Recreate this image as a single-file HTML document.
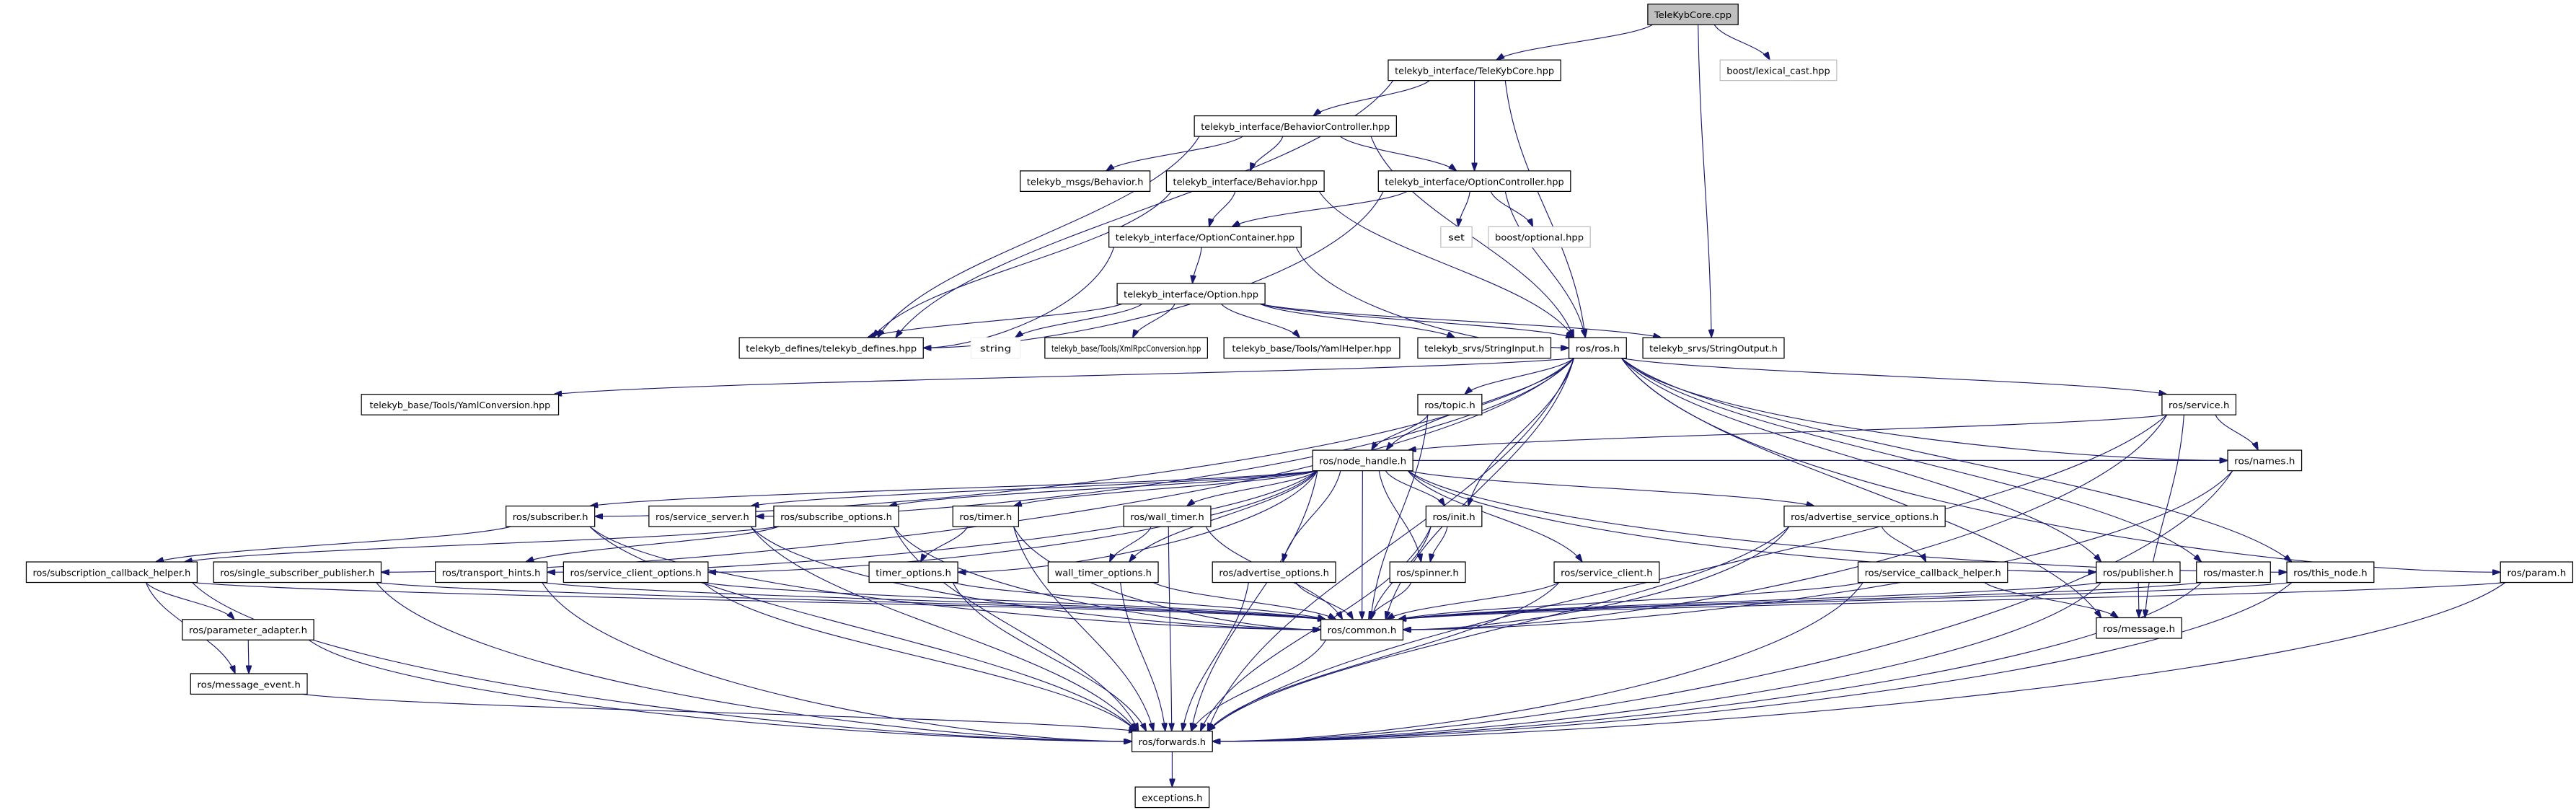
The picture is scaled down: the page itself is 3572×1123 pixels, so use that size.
<!DOCTYPE html>
<html><head><meta charset="utf-8">
<style>
html,body{margin:0;padding:0;background:#fff;width:3572px;height:1123px;overflow:hidden}
svg{display:block}
text{font-family:"DejaVu Sans","Liberation Sans",sans-serif;font-size:5.4px;fill:#000;text-anchor:middle}
rect{fill:#fff;stroke:#000;stroke-width:0.55}
rect.g{stroke:#bfbfbf}
rect.f{fill:#bfbfbf}
path.e{fill:none;stroke:#191970;stroke-width:0.5}
</style></head><body>
<svg id="s" width="3572" height="1123" viewBox="0 0 1568 493" preserveAspectRatio="none" xmlns="http://www.w3.org/2000/svg">
<defs><marker id="a" viewBox="0 0 10 7" refX="10" refY="3.5" markerWidth="5" markerHeight="3.5" markerUnits="userSpaceOnUse" orient="auto"><path d="M0,0 L10,3.5 L0,7 z" fill="#191970" stroke="#191970"/></marker></defs>
<g id="E"></g>
<g id="N">
<rect id="n0" class="f" x="1003" y="2.5" width="55" height="12.5"/><text x="1030.5" y="11" textLength="47" lengthAdjust="spacingAndGlyphs">TeleKybCore.cpp</text>
<rect id="n1" x="845" y="36.5" width="105" height="12.5"/><text x="897.5" y="45" textLength="97" lengthAdjust="spacingAndGlyphs">telekyb_interface/TeleKybCore.hpp</text>
<rect id="lex" class="g" x="1047" y="36.5" width="71" height="12.5"/><text x="1082.5" y="45" textLength="63" lengthAdjust="spacingAndGlyphs">boost/lexical_cast.hpp</text>
<rect id="bc" x="727" y="70.5" width="123" height="12.5"/><text x="788.5" y="79" textLength="115" lengthAdjust="spacingAndGlyphs">telekyb_interface/BehaviorController.hpp</text>
<rect id="mb" x="621" y="104" width="79" height="12.5"/><text x="660.5" y="112.5" textLength="71" lengthAdjust="spacingAndGlyphs">telekyb_msgs/Behavior.h</text>
<rect id="bh" x="710" y="104" width="96" height="12.5"/><text x="758" y="112.5" textLength="88" lengthAdjust="spacingAndGlyphs">telekyb_interface/Behavior.hpp</text>
<rect id="oc" x="839" y="104" width="117" height="12.5"/><text x="897.5" y="112.5" textLength="109" lengthAdjust="spacingAndGlyphs">telekyb_interface/OptionController.hpp</text>
<rect id="set" class="g" x="877" y="138" width="19" height="12.5"/><text x="886.5" y="146.5" textLength="10" lengthAdjust="spacingAndGlyphs">set</text>
<rect id="opt" class="g" x="906" y="138" width="62" height="12.5"/><text x="937" y="146.5" textLength="54" lengthAdjust="spacingAndGlyphs">boost/optional.hpp</text>
<rect id="ocn" x="675" y="138" width="117" height="12.5"/><text x="733.5" y="146.5" textLength="109" lengthAdjust="spacingAndGlyphs">telekyb_interface/OptionContainer.hpp</text>
<rect id="op" x="680" y="172.5" width="90" height="12.5"/><text x="725" y="181" textLength="82" lengthAdjust="spacingAndGlyphs">telekyb_interface/Option.hpp</text>
<rect id="def" x="450" y="205.5" width="112" height="12.5"/><text x="506" y="214" textLength="104" lengthAdjust="spacingAndGlyphs">telekyb_defines/telekyb_defines.hpp</text>
<rect id="str" class="g" x="591" y="205.5" width="30" height="12.5" style="stroke:#f0f0f0"/><text x="606" y="214" textLength="19" lengthAdjust="spacingAndGlyphs">string</text>
<rect id="xml" x="636" y="205.5" width="99" height="12.5"/><text x="685.5" y="214" textLength="91" lengthAdjust="spacingAndGlyphs">telekyb_base/Tools/XmlRpcConversion.hpp</text>
<rect id="yh" x="745" y="205.5" width="107" height="12.5"/><text x="798.5" y="214" textLength="97" lengthAdjust="spacingAndGlyphs">telekyb_base/Tools/YamlHelper.hpp</text>
<rect id="si" x="863" y="205.5" width="81" height="12.5"/><text x="903.5" y="214" textLength="73" lengthAdjust="spacingAndGlyphs">telekyb_srvs/StringInput.h</text>
<rect id="ros" x="955" y="205.5" width="35" height="12.5"/><text x="972.5" y="214" textLength="27" lengthAdjust="spacingAndGlyphs">ros/ros.h</text>
<rect id="so" x="1000" y="205.5" width="86" height="12.5"/><text x="1043" y="214" textLength="78" lengthAdjust="spacingAndGlyphs">telekyb_srvs/StringOutput.h</text>
<rect id="yc" x="220" y="240" width="120" height="12.5"/><text x="280" y="248.5" textLength="110" lengthAdjust="spacingAndGlyphs">telekyb_base/Tools/YamlConversion.hpp</text>
<rect id="topic" x="863" y="240" width="39" height="12.5"/><text x="882.5" y="248.5" textLength="31" lengthAdjust="spacingAndGlyphs">ros/topic.h</text>
<rect id="svc" x="1316" y="240" width="45" height="12.5"/><text x="1338.5" y="248.5" textLength="37" lengthAdjust="spacingAndGlyphs">ros/service.h</text>
<rect id="names" x="1356" y="274" width="45" height="12.5"/><text x="1378.5" y="282.5" textLength="37" lengthAdjust="spacingAndGlyphs">ros/names.h</text>
<rect id="nh" x="799" y="274" width="61" height="12.5"/><text x="829.5" y="282.5" textLength="53" lengthAdjust="spacingAndGlyphs">ros/node_handle.h</text>
<rect id="sub" x="308" y="308" width="54" height="12.5"/><text x="335" y="316.5" textLength="46" lengthAdjust="spacingAndGlyphs">ros/subscriber.h</text>
<rect id="ss" x="395" y="308" width="65" height="12.5"/><text x="427.5" y="316.5" textLength="57" lengthAdjust="spacingAndGlyphs">ros/service_server.h</text>
<rect id="sop" x="471" y="308" width="76" height="12.5"/><text x="509" y="316.5" textLength="68" lengthAdjust="spacingAndGlyphs">ros/subscribe_options.h</text>
<rect id="tim" x="580" y="308" width="40" height="12.5"/><text x="600" y="316.5" textLength="32" lengthAdjust="spacingAndGlyphs">ros/timer.h</text>
<rect id="wt" x="684" y="308" width="53" height="12.5"/><text x="710.5" y="316.5" textLength="45" lengthAdjust="spacingAndGlyphs">ros/wall_timer.h</text>
<rect id="init" x="868" y="308" width="34" height="12.5"/><text x="885" y="316.5" textLength="26" lengthAdjust="spacingAndGlyphs">ros/init.h</text>
<rect id="aso" x="1086" y="308" width="98" height="12.5"/><text x="1135" y="316.5" textLength="90" lengthAdjust="spacingAndGlyphs">ros/advertise_service_options.h</text>
<rect id="sch" x="16" y="342" width="104" height="12.5"/><text x="68" y="350.5" textLength="96" lengthAdjust="spacingAndGlyphs">ros/subscription_callback_helper.h</text>
<rect id="ssp" x="130" y="342" width="102" height="12.5"/><text x="181" y="350.5" textLength="94" lengthAdjust="spacingAndGlyphs">ros/single_subscriber_publisher.h</text>
<rect id="th" x="265" y="342" width="68" height="12.5"/><text x="299" y="350.5" textLength="60" lengthAdjust="spacingAndGlyphs">ros/transport_hints.h</text>
<rect id="sco" x="343" y="342" width="88" height="12.5"/><text x="387" y="350.5" textLength="80" lengthAdjust="spacingAndGlyphs">ros/service_client_options.h</text>
<rect id="to" x="529" y="342" width="54" height="12.5"/><text x="556" y="350.5" textLength="46" lengthAdjust="spacingAndGlyphs">timer_options.h</text>
<rect id="wto" x="638" y="342" width="67" height="12.5"/><text x="671.5" y="350.5" textLength="59" lengthAdjust="spacingAndGlyphs">wall_timer_options.h</text>
<rect id="ao" x="738" y="342" width="75" height="12.5"/><text x="775.5" y="350.5" textLength="67" lengthAdjust="spacingAndGlyphs">ros/advertise_options.h</text>
<rect id="sp" x="846" y="342" width="46" height="12.5"/><text x="869" y="350.5" textLength="38" lengthAdjust="spacingAndGlyphs">ros/spinner.h</text>
<rect id="sc" x="946" y="342" width="64" height="12.5"/><text x="978" y="350.5" textLength="56" lengthAdjust="spacingAndGlyphs">ros/service_client.h</text>
<rect id="scb" x="1131" y="342" width="91" height="12.5"/><text x="1176.5" y="350.5" textLength="83" lengthAdjust="spacingAndGlyphs">ros/service_callback_helper.h</text>
<rect id="pub" x="1276" y="342" width="51" height="12.5"/><text x="1301.5" y="350.5" textLength="43" lengthAdjust="spacingAndGlyphs">ros/publisher.h</text>
<rect id="mas" x="1337" y="342" width="45" height="12.5"/><text x="1359.5" y="350.5" textLength="37" lengthAdjust="spacingAndGlyphs">ros/master.h</text>
<rect id="tn" x="1392" y="342" width="53" height="12.5"/><text x="1418.5" y="350.5" textLength="45" lengthAdjust="spacingAndGlyphs">ros/this_node.h</text>
<rect id="param" x="1522" y="342" width="44" height="12.5"/><text x="1544" y="350.5" textLength="36" lengthAdjust="spacingAndGlyphs">ros/param.h</text>
<rect id="com" x="804" y="377" width="50" height="12.5"/><text x="829" y="385.5" textLength="42" lengthAdjust="spacingAndGlyphs">ros/common.h</text>
<rect id="msg" x="1276" y="376" width="52" height="12.5"/><text x="1302" y="384.5" textLength="44" lengthAdjust="spacingAndGlyphs">ros/message.h</text>
<rect id="pa" x="111" y="377" width="80" height="12.5"/><text x="151" y="385.5" textLength="72" lengthAdjust="spacingAndGlyphs">ros/parameter_adapter.h</text>
<rect id="me" x="116" y="410" width="71" height="12.5"/><text x="151.5" y="418.5" textLength="63" lengthAdjust="spacingAndGlyphs">ros/message_event.h</text>
<rect id="fw" x="689" y="445" width="49" height="12.5"/><text x="713.5" y="453.5" textLength="41" lengthAdjust="spacingAndGlyphs">ros/forwards.h</text>
<rect id="exc" x="691" y="479" width="45" height="12.5"/><text x="713.5" y="487.5" textLength="37" lengthAdjust="spacingAndGlyphs">exceptions.h</text>
</g>
</svg>
<script>
(function(){
var E={
n0:"n1 lex so",
n1:"bc oc def ros",
bc:"mb bh oc def ros",
bh:"ocn def ros",
oc:"set opt ocn def ros",
ocn:"op def ros",
op:"def str xml yh si ros so",
ros:"yc nh topic svc names init com fw pub param tn mas sub ss ssp msg",
topic:"nh com",
svc:"nh names com fw msg",
names:"com fw",
nh:"sub ss sop tim wt init aso ao sp sc sco to wto th pub com fw names tn",
sub:"sch com fw",
ss:"com fw",
sop:"sch th com fw",
tim:"to com fw",
wt:"wto com fw",
init:"sp com fw",
aso:"scb com fw",
sch:"pa me com fw",
ssp:"com fw",
th:"com fw",
sco:"com fw",
to:"com fw",
wto:"com fw",
ao:"com fw",
sp:"com",
sc:"com fw",
scb:"com msg fw",
pub:"com msg fw",
mas:"com fw",
tn:"com fw",
param:"com fw",
pa:"me fw",
me:"fw",
com:"fw",
fw:"exc"
};
function B(id){var r=document.getElementById(id);var x=+r.getAttribute("x"),y=+r.getAttribute("y"),w=+r.getAttribute("width"),h=+r.getAttribute("height");return {x:x,y:y,w:w,h:h,cx:x+w/2,cy:y+h/2};}
function cl(v,a,b){return Math.max(a,Math.min(b,v));}
var g=document.getElementById("E"),out="";
for(var s in E){var a=B(s);E[s].split(" ").forEach(function(t){var b=B(t);
 var dx=b.cx-a.cx,dyc=b.cy-a.cy,x1,y1,x2,y2,d;
 var dy=b.y-(a.y+a.h);
 if(dy<6){
   /* same-row: side to side */
   y1=a.cy; x1=dx>0?a.x+a.w:a.x; y2=b.cy; x2=dx>0?b.x:b.x+b.w;
   d="M"+x1+","+y1+" L"+x2+","+y2;
 }else if(Math.abs(dx)>4*dy&&dy>40){
   x1=cl(a.cx+dx*0.3,a.x+3,a.x+a.w-3); y1=a.y+a.h;
   y2=b.cy; x2=dx>0?b.x:b.x+b.w;
   d="M"+x1+","+y1+" C"+(x1+(x2-x1)*0.1)+","+(y1+(y2-y1)*0.6)+" "+(x2-(x2-x1)*0.3)+","+y2+" "+x2+","+y2;
 }else{
   x1=cl(a.cx+dx*0.25,a.x+3,a.x+a.w-3); y1=a.y+a.h;
   x2=cl(b.cx-dx*0.1,b.x+3,b.x+b.w-3); y2=b.y;
   var ddx=x2-x1, ddy=y2-y1;
   d="M"+x1+","+y1+" C"+(x1+ddx*0.15)+","+(y1+ddy*0.4)+" "+(x2-ddx*0.15)+","+(y2-ddy*0.4)+" "+x2+","+y2;
 }
 out+='<path class="e" marker-end="url(#a)" d="'+d+'"/>';
});}
g.innerHTML=out;
})();
</script>
</body></html>
